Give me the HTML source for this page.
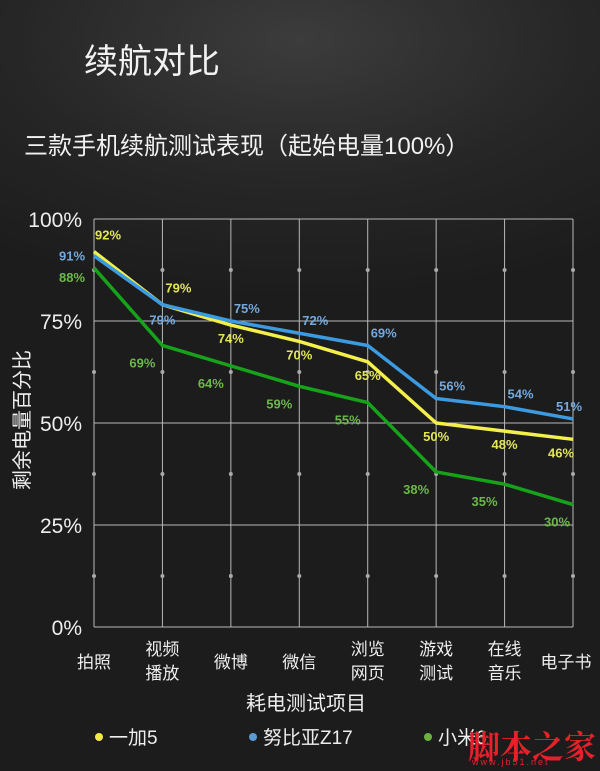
<!DOCTYPE html>
<html><head><meta charset="utf-8">
<style>
html,body{margin:0;padding:0}
body{width:600px;height:771px;overflow:hidden;background:radial-gradient(ellipse 520px 260px at 300px 40px,#3c3c3c 0%,#262626 55%,#1c1c1d 100%);font-family:"Liberation Sans","Noto Sans CJK SC",sans-serif;color:#fff;position:relative}
.t{position:absolute;white-space:nowrap}
</style></head><body>
<div class="t" style="left:84px;top:34px;font-size:34px;color:#f2f2f2">续航对比</div>
<div class="t" style="left:24px;top:126px;font-size:24px;color:#f2f2f2">三款手机续航测试表现（起始电量100%）</div>
<svg id="chart" width="600" height="771" style="position:absolute;left:0;top:0" font-family="Liberation Sans, Noto Sans CJK SC, sans-serif"></svg>
<div class="t" style="left:468px;top:722px;font-size:32px;color:#e8202a;font-weight:bold;font-family:'Noto Serif CJK SC',serif">脚本之家</div>
<div class="t" style="left:472px;top:757px;font-size:9px;color:#e8202a;letter-spacing:2px">www.jb51.net</div>
<script>
const categories=[["拍照"],["视频","播放"],["微博"],["微信"],["浏览","网页"],["游戏","测试"],["在线","音乐"],["电子书"]];
const seriesNames=["一加5","努比亚Z17","小米6"];
const yijia=[92,79,74,70,65,50,48,46];
const nubia=[91,79,75,72,69,56,54,51];
const xiaomi=[88,69,64,59,55,38,35,30];
const yTicks=[0,25,50,75,100];
const NS="http://www.w3.org/2000/svg";
const svg=document.getElementById('chart');
const X0=94,X1=573,Y0=627,Y1=219;
const xs=i=>X0+(X1-X0)*i/(categories.length-1);
const ys=v=>Y0-(Y0-Y1)*v/100;
function mk(tag,attrs,parent){const e=document.createElementNS(NS,tag);for(const k in attrs)e.setAttribute(k,attrs[k]);(parent||svg).appendChild(e);return e;}
// grid
categories.forEach((c,i)=>{const l=mk('line',{x1:xs(i),x2:xs(i),y1:Y1,y2:Y0,stroke:'#b8b8b8','stroke-width':1});

});
yTicks.forEach(v=>{const l=mk('line',{x1:X0,x2:X1,y1:ys(v),y2:ys(v),stroke:'#b8b8b8','stroke-width':1});


const t=mk('text',{x:82,y:ys(v)+8,'text-anchor':'end','font-size':21,fill:'#eee'});t.textContent=v+'%';

});
for(let v=12.5;v<100;v+=25){categories.forEach((c,i)=>{const d=mk('circle',{cx:xs(i),cy:ys(v),r:2,fill:'#aaa'});

});}
// category labels
categories.forEach((c,i)=>{c.forEach((s,j)=>{const cy=c.length===1?668:655+j*24;const t=mk('text',{x:xs(i)+(i===7?-7:0),y:cy,'text-anchor':'middle','font-size':17,fill:'#eee'});t.textContent=s;

});});
const yt=mk('text',{transform:'translate(29,420) rotate(-90)','text-anchor':'middle','font-size':20,fill:'#eee'});yt.textContent='剩余电量百分比';


const xt=mk('text',{x:306,y:710,'text-anchor':'middle','font-size':20,fill:'#eee'});xt.textContent='耗电测试项目';


const series=[{d:yijia,c:'#f3f04c',lc:'#e3e658',name:'yijia5'},{d:nubia,c:'#3b9ae0',lc:'#73a9dc',name:'nubia-z17'},{d:xiaomi,c:'#16a31a',lc:'#6cb84a',name:'xiaomi6'}];
series.forEach((s,si)=>{
 const p=mk('polyline',{points:s.d.map((v,i)=>xs(i)+','+ys(v)).join(' '),fill:'none',stroke:s.c,'stroke-width':3.5,'stroke-linejoin':'round'});
 
 
 s.d.forEach((v,i)=>{let dx,dy;
  if(si===0){dx=i===0?14:(i<2?16:(i===7?-12:0));dy=i<2?-12:18;}
  else if(si===1){dx=i===0?-22:(i===1?0:(i===7?-4:16));dy=i===0?5:(i===1?20:-8);}
  else {dx=i===0?-22:(i===7?-16:-20);dy=i===0?14:22;}
  const t=mk('text',{x:xs(i)+dx,y:ys(v)+dy,'text-anchor':'middle','font-size':13,'font-weight':'bold',fill:s.lc});t.textContent=v+'%';
  
  });
});
// legend
const lx=[99,253,428],lc=['#f3e84a','#5b9bd5','#6cb040'];
seriesNames.forEach((n,i)=>{const c=mk('circle',{cx:lx[i],cy:737,r:4,fill:lc[i]});


const t=mk('text',{x:lx[i]+10,y:744,'font-size':19,fill:'#eee'});t.textContent=n;

});
</script>
</body></html>
